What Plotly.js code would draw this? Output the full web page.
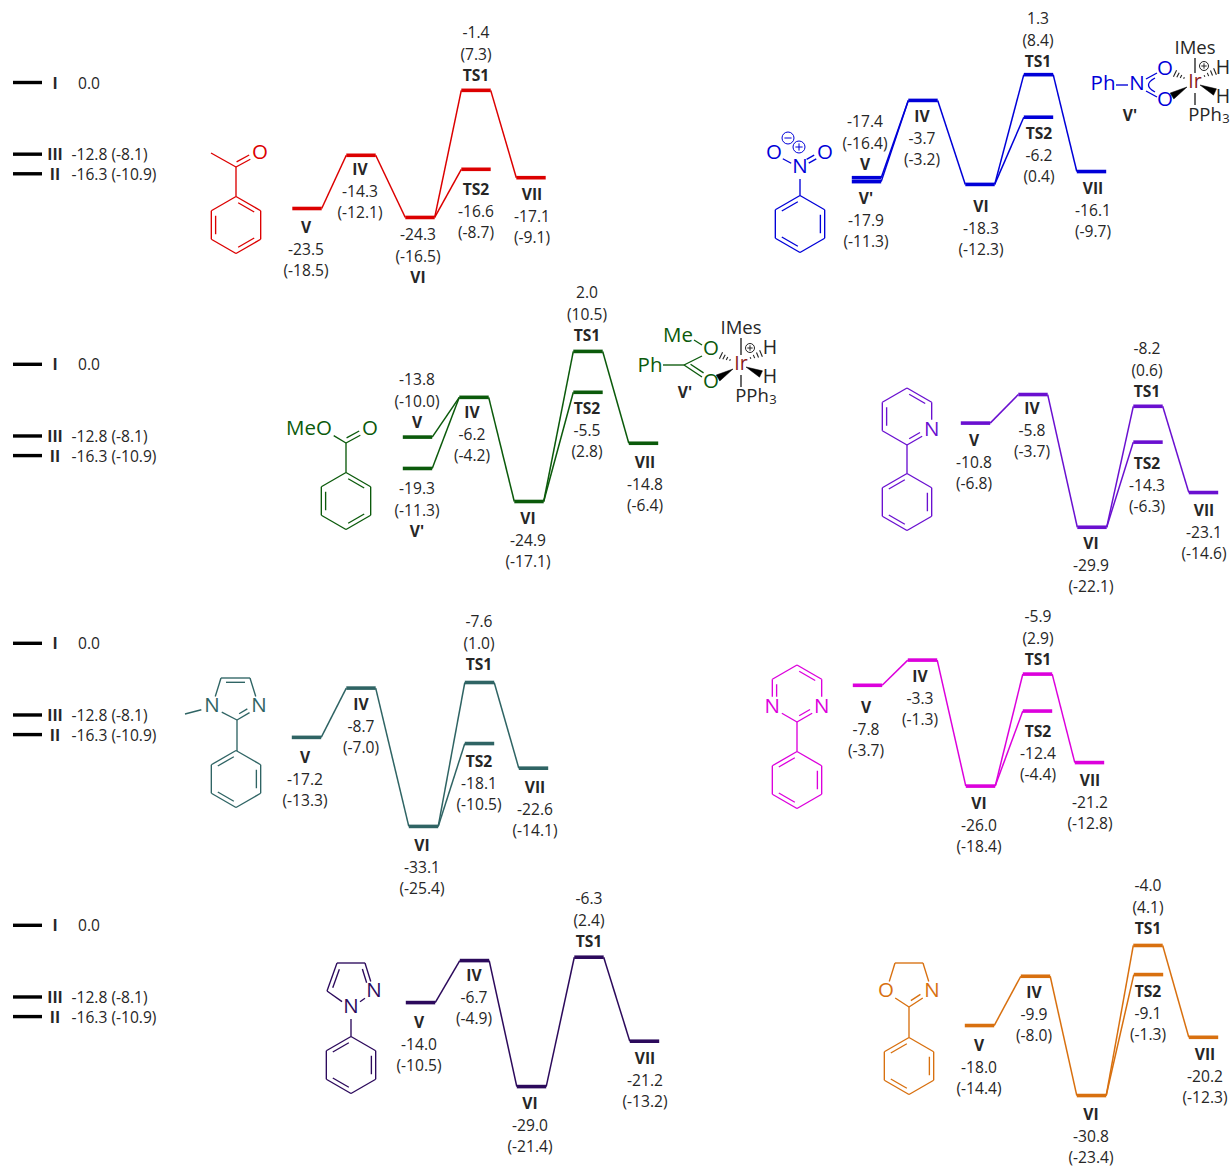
<!DOCTYPE html>
<html>
<head>
<meta charset="utf-8">
<script src="https://cdn.plot.ly/plotly-3.0.1.min.js"></script>
<style>html,body{margin:0;padding:0;background:#fff;overflow:hidden}#plot{width:1230px;height:1167px}</style>
</head>
<body>
<div id="plot"></div>
<script>
// ---------- reference levels ----------
const refNames = ['I', 'III', 'II'];
const refLevels = [0, -12.8, -16.3];
const refText = ['0.0', '-12.8 (-8.1)', '-16.3 (-10.9)'];

// ---------- stages, drawn level heights, printed values ----------
const acetoNames = ['V', 'IV', 'VI', 'TS1', 'TS2', 'VII'];
const acetoLevels = [-22.5, -13.0, -24.1, -1.4, -15.5, -17.0];
const acetoG = [-23.5, -14.3, -24.3, -1.4, -16.6, -17.1];
const acetoH = [-18.5, -12.1, -16.5, 7.3, -8.7, -9.1];

const nitroNames = ['V', "V'", 'IV', 'VI', 'TS1', 'TS2', 'VII'];
const nitroLevels = [-17.0, -17.7, -3.2, -18.2, 1.4, -6.2, -15.9];
const nitroG = [-17.4, -17.9, -3.7, -18.3, 1.3, -6.2, -16.1];
const nitroH = [-16.4, -11.3, -3.2, -12.3, 8.4, 0.4, -9.7];

const esterNames = ['V', "V'", 'IV', 'VI', 'TS1', 'TS2', 'VII'];
const esterLevels = [-13.0, -18.6, -5.9, -24.5, 2.3, -5.0, -14.1];
const esterG = [-13.8, -19.3, -6.2, -24.9, 2.0, -5.5, -14.8];
const esterH = [-10.0, -11.3, -4.2, -17.1, 10.5, 2.8, -6.4];

const pyridineNames = ['V', 'IV', 'VI', 'TS1', 'TS2', 'VII'];
const pyridineLevels = [-10.5, -5.4, -29.1, -7.5, -13.9, -22.9];
const pyridineG = [-10.8, -5.8, -29.9, -8.2, -14.3, -23.1];
const pyridineH = [-6.8, -3.7, -22.1, 0.6, -6.3, -14.6];

const imidazoleNames = ['V', 'IV', 'VI', 'TS1', 'TS2', 'VII'];
const imidazoleLevels = [-16.8, -8.0, -32.7, -7.0, -17.9, -22.3];
const imidazoleG = [-17.2, -8.7, -33.1, -7.6, -18.1, -22.6];
const imidazoleH = [-13.3, -7.0, -25.4, 1.0, -10.5, -14.1];

const pyrimidineNames = ['V', 'IV', 'VI', 'TS1', 'TS2', 'VII'];
const pyrimidineLevels = [-7.5, -3.0, -25.5, -5.5, -12.1, -21.3];
const pyrimidineG = [-7.8, -3.3, -26.0, -5.9, -12.4, -21.2];
const pyrimidineH = [-3.7, -1.3, -18.4, 2.9, -4.4, -12.8];

const pyrazoleNames = ['V', 'IV', 'VI', 'TS1', 'VII'];
const pyrazoleLevels = [-13.8, -6.3, -28.8, -5.7, -20.7];
const pyrazoleG = [-14.0, -6.7, -29.0, -6.3, -21.2];
const pyrazoleH = [-10.5, -4.9, -21.4, 2.4, -13.2];

const oxazolineNames = ['V', 'IV', 'VI', 'TS1', 'TS2', 'VII'];
const oxazolineLevels = [-17.9, -9.1, -30.4, -3.6, -8.8, -20.0];
const oxazolineG = [-18.0, -9.9, -30.8, -4.0, -9.1, -20.2];
const oxazolineH = [-14.4, -8.0, -23.4, 4.1, -1.3, -12.3];

// ---------- placement (separate from the values) ----------
const PX_PER_UNIT = 5.6;
const rowZero = [82.5, 364.3, 643.3, 925.3];
const BAR_HALF = 14.7, LINE_PITCH = 21.7, LABEL_SHIFT = 1;
const LABEL_SIZE = 15.6, ATOM_SIZE = 20.5, LIGAND_SIZE = 18.5;
const INK = '#262626';
const FONT = 'Open Sans, Noto Sans, sans-serif';
const ROUTE_MAIN = [['V','IV'],['IV','VI'],['VI','TS1'],['VI','TS2'],['TS1','VII']];
const ROUTE_DOUBLE = ROUTE_MAIN.concat([["V'",'IV']]);
const ROUTE_NO_TS2 = [['V','IV'],['IV','VI'],['VI','TS1'],['TS1','VII']];

// label placement: x centre, y of first line, order ('n' name first, 'v' values first)
const panels = [
 {names:acetoNames, levels:acetoLevels, g:acetoG, h:acetoH, row:0, color:'#dc0000', route:ROUTE_MAIN,
  barX:[307,361,420,476,476,531],
  lab:[[306,228,'n'],[360,170,'n'],[418,235,'v'],[476,33,'v'],[476,190,'n'],[532,195,'n']]},
 {names:nitroNames, levels:nitroLevels, g:nitroG, h:nitroH, row:0, color:'#0000d8', route:ROUTE_DOUBLE,
  barX:[866.5,866.5,923,980,1038.5,1038.5,1091.5],
  lab:[[865,122,'v'],[866,199,'n'],[922,117,'n'],[981,207,'n'],[1038,19,'v'],[1039,134,'n'],[1093,189,'n']]},
 {names:esterNames, levels:esterLevels, g:esterG, h:esterH, row:1, color:'#0b5a0b', route:ROUTE_DOUBLE,
  barX:[417.5,417.5,474,529,588,588,643.5],
  lab:[[417,380,'v'],[417,489,'v'],[472,413,'n'],[528,519,'n'],[587,293,'v'],[587,409,'n'],[645,463,'n']]},
 {names:pyridineNames, levels:pyridineLevels, g:pyridineG, h:pyridineH, row:1, color:'#6a10d0', route:ROUTE_MAIN,
  barX:[975.5,1033,1092,1148,1148,1203.5],
  lab:[[974,441,'n'],[1032,409,'n'],[1091,544,'n'],[1147,349,'v'],[1147,464,'n'],[1204,511,'n']]},
 {names:imidazoleNames, levels:imidazoleLevels, g:imidazoleG, h:imidazoleH, row:2, color:'#2f6464', route:ROUTE_MAIN,
  barX:[306.5,361,423.5,479.5,479.5,533.5],
  lab:[[305,758,'n'],[361,705,'n'],[422,846,'n'],[479,622,'v'],[479,762,'n'],[535,788,'n']]},
 {names:pyrimidineNames, levels:pyrimidineLevels, g:pyrimidineG, h:pyrimidineH, row:2, color:'#dc00dc', route:ROUTE_MAIN,
  barX:[867.5,922.5,980.5,1037.5,1037.5,1089.5],
  lab:[[866,708,'n'],[920,677,'n'],[979,804,'n'],[1038,617,'v'],[1038,732,'n'],[1090,781,'n']]},
 {names:pyrazoleNames, levels:pyrazoleLevels, g:pyrazoleG, h:pyrazoleH, row:3, color:'#2c0a5c', route:ROUTE_NO_TS2,
  barX:[420.5,474.5,531.5,589,644.5],
  lab:[[419,1023,'n'],[474,976,'n'],[530,1104,'n'],[589,899,'v'],[645,1059,'n']]},
 {names:oxazolineNames, levels:oxazolineLevels, g:oxazolineG, h:oxazolineH, row:3, color:'#d8700f', route:ROUTE_MAIN,
  barX:[979.5,1035.5,1091.5,1148,1148.5,1203.5],
  lab:[[979,1046,'n'],[1034,993,'n'],[1091,1115,'n'],[1148,886,'v'],[1148,992,'n'],[1205,1055,'n']]}
];

// ---------- traces ----------
const traces = [];
const yRef = r => r === 0 ? 'y' : 'y' + (r + 1);
const txt = {x:[], y:[], text:[]};
const addTxt = (x, y, t) => { txt.x.push(x); txt.y.push(y); txt.text.push(t); };

rowZero.forEach((z, r) => {
  const bx = [], by = [];
  refLevels.forEach(l => { bx.push(13, 42, null); by.push(l, l, null); });
  traces.push({type:'scatter', mode:'lines', x:bx, y:by, yaxis:yRef(r), hoverinfo:'skip',
    line:{color:'#000', width:3.4}});
  traces.push({type:'scatter', mode:'text', x:refNames.map(() => 55), y:refLevels.map(l => l - 0.4),
    text:refNames.map(n => '<b>' + n + '</b>'), yaxis:yRef(r), textposition:'middle center', hoverinfo:'skip',
    textfont:{family:FONT, size:LABEL_SIZE, color:INK}});
  traces.push({type:'scatter', mode:'text', x:[78, 71.5, 71.5], y:refLevels.map(l => l - 0.4),
    text:refText, yaxis:yRef(r), textposition:'middle right', hoverinfo:'skip',
    textfont:{family:FONT, size:LABEL_SIZE, color:INK}});
});

panels.forEach(p => {
  const idx = n => p.names.indexOf(n);
  const cx = [], cy = [];
  p.route.forEach(([a, b]) => {
    cx.push(p.barX[idx(a)] + BAR_HALF, p.barX[idx(b)] - BAR_HALF, null);
    cy.push(p.levels[idx(a)], p.levels[idx(b)], null);
  });
  traces.push({type:'scatter', mode:'lines', x:cx, y:cy, yaxis:yRef(p.row), hoverinfo:'skip',
    line:{color:p.color, width:1.5}});
  const bx = [], by = [];
  p.levels.forEach((l, i) => { bx.push(p.barX[i] - BAR_HALF, p.barX[i] + BAR_HALF, null); by.push(l, l, null); });
  traces.push({type:'scatter', mode:'lines', x:bx, y:by, yaxis:yRef(p.row), hoverinfo:'skip',
    line:{color:p.color, width:3.6}});
  p.lab.forEach(([x, y, order], i) => {
    const n = '<b>' + p.names[i] + '</b>', g = p.g[i].toFixed(1), h = '(' + p.h[i].toFixed(1) + ')';
    const lines = order === 'n' ? [n, g, h] : [g, h, n];
    lines.forEach((t, k) => addTxt(x, y + LABEL_SHIFT + k * LINE_PITCH, t));
  });
});

// ---------- structures, drawn as shapes on the page-level axis ----------
const shapes = [];
const line = (a, b, c, w) => shapes.push({type:'line', xref:'x', yref:'y5', x0:a[0], y0:a[1], x1:b[0], y1:b[1],
  line:{color:c, width:w || 1.35}, layer:'above'});
const trim = (a, b, ta, tb) => {
  const dx = b[0]-a[0], dy = b[1]-a[1], L = Math.hypot(dx, dy);
  return [[a[0]+dx/L*ta, a[1]+dy/L*ta], [b[0]-dx/L*tb, b[1]-dy/L*tb]];
};
const bond = (a, b, c, ta, tb) => { const t = trim(a, b, ta||0, tb||0); line(t[0], t[1], c); };
const innerLine = (a, b, toward, c, ta, tb) => {
  const dx = b[0]-a[0], dy = b[1]-a[1], L = Math.hypot(dx, dy);
  let nx = -dy/L, ny = dx/L;
  const mx = (a[0]+b[0])/2, my = (a[1]+b[1])/2;
  if ((toward[0]-mx)*nx + (toward[1]-my)*ny < 0) { nx = -nx; ny = -ny; }
  const off = 4.3;
  const A = [a[0]+nx*off, a[1]+ny*off], B = [b[0]+nx*off, b[1]+ny*off];
  const t = trim(A, B, ta===undefined?5:ta, tb===undefined?5:tb);
  line(t[0], t[1], c);
};
function hexVerts(cx, cy, R) {
  const v = [];
  for (let i = 0; i < 6; i++) { const a = -Math.PI/2 + i*Math.PI/3; v.push([cx + R*Math.cos(a), cy + R*Math.sin(a)]); }
  return v; // 0 top, 1 UR, 2 LR, 3 bottom, 4 LL, 5 UL
}
function ring(verts, doubles, c, hetero) {
  hetero = hetero || [];
  const n = verts.length;
  const cen = [verts.reduce((s,v)=>s+v[0],0)/n, verts.reduce((s,v)=>s+v[1],0)/n];
  for (let i = 0; i < n; i++) {
    const j = (i+1)%n;
    const ta = hetero.includes(i) ? 11 : 0, tb = hetero.includes(j) ? 11 : 0;
    bond(verts[i], verts[j], c, ta, tb);
    if (doubles.includes(i)) innerLine(verts[i], verts[j], cen, c, Math.max(ta,5), Math.max(tb,5));
  }
}
const PHENYL_A = [0, 2, 4], PHENYL_B = [1, 3, 5];
const R6 = 28.5;
const atomTxt = [];
const atom = (x, y, t, c, size) => atomTxt.push({x, y, t, c, size: size || ATOM_SIZE});
const circleMark = (x, y, r, c, plus) => {
  shapes.push({type:'circle', xref:'x', yref:'y5', x0:x-r, x1:x+r, y0:y-r, y1:y+r, line:{color:c, width:1}, layer:'above'});
  line([x-r*0.6, y], [x+r*0.6, y], c, 1);
  if (plus) line([x, y-r*0.6], [x, y+r*0.6], c, 1);
};
const wedge = (tip, base, w, c) => {
  const dx = base[0]-tip[0], dy = base[1]-tip[1], L = Math.hypot(dx, dy), nx = -dy/L*w/2, ny = dx/L*w/2;
  shapes.push({type:'path', xref:'x', yref:'y5', layer:'above', fillcolor:c, line:{color:c, width:0.5},
    path:`M ${tip[0]} ${tip[1]} L ${base[0]+nx} ${base[1]+ny} L ${base[0]-nx} ${base[1]-ny} Z`});
};
const hash = (tip, base, w, c, n) => {
  const dx = base[0]-tip[0], dy = base[1]-tip[1], L = Math.hypot(dx, dy);
  for (let i = 0; i < n; i++) {
    const f = (i + 1)/n, x = tip[0]+dx*f, y = tip[1]+dy*f;
    const nx = -dy/L*w*f/2, ny = dx/L*w*f/2;
    line([x+nx, y+ny], [x-nx, y-ny], c, 1.1);
  }
};

// acetophenone
(function(){ const c = panels[0].color;
  ring(hexVerts(236, 225, R6), PHENYL_A, c);
  const C = [236, 167];
  bond([236, 196.5], C, c);
  bond(C, [211, 153], c);
  bond(C, [260, 154], c, 0, 11);
  innerLine(C, [260, 154], [240, 150], c, 3, 10);
  atom(260, 154, 'O', c);
})();
// nitrobenzene
(function(){ const c = panels[1].color;
  ring(hexVerts(800, 224, R6), PHENYL_B, c);
  const N = [800, 168];
  bond([800, 195.5], N, c, 0, 11);
  bond(N, [774, 154], c, 10, 10);
  bond(N, [825, 154], c, 10, 10);
  innerLine(N, [825, 154], [825, 140], c, 10, 10);
  atom(800, 168, 'N', c); atom(774, 154, 'O', c); atom(825, 154, 'O', c);
  circleMark(788, 138, 6, c, false); circleMark(799, 147, 6, c, true);
  // Ir complex ligand
  atom(1103, 85, 'Ph', c); atom(1137, 85, 'N', c); atom(1165, 70, 'O', c); atom(1165, 101, 'O', c);
  bond([1116, 85], [1128, 85], c);
  bond([1146, 79], [1157, 73], c); bond([1146, 91], [1157, 97], c);
  shapes.push({type:'path', xref:'x', yref:'y5', layer:'above', line:{color:c, width:1.35},
    path:'M 1155 78 Q 1142 85 1155 92'});
})();
// methyl benzoate
(function(){ const c = panels[2].color;
  ring(hexVerts(346, 501, R6), PHENYL_A, c);
  const C = [346, 443];
  bond([346, 472.5], C, c);
  bond(C, [370, 430], c, 0, 11);
  innerLine(C, [370, 430], [350, 426], c, 3, 10);
  bond(C, [326, 431], c, 0, 9);
  atom(309, 430, 'MeO', c); atom(370, 430, 'O', c);
  // Ir complex ligand
  atom(678, 337, 'Me', c); atom(711, 350, 'O', c); atom(650, 367, 'Ph', c); atom(711, 383, 'O', c);
  const C2 = [684, 365];
  bond([663, 365], C2, c); bond(C2, [702, 356], c);
  bond(C2, [702, 377], c); innerLine(C2, [702, 377], [707, 362], c, 5, 1);
  bond([694, 340], [702, 345], c);
})();
// Ir centre common to both complexes
function irCentre(ix, iy, hx, hy1, hy2, ppx, ppy, imy) {
  const K = '#222222';
  atom(ix, iy, 'Ir', '#8b1a1a', LIGAND_SIZE + 1);
  atom(ix, imy, 'IMes', INK, LIGAND_SIZE);
  atom(hx, hy1, 'H', INK, LIGAND_SIZE + 1); atom(hx, hy2, 'H', INK, LIGAND_SIZE + 1);
  atom(ppx, ppy, 'PPh', INK, LIGAND_SIZE);
  atom(ppx + 21, ppy + 4, '3', INK, 13);
  circleMark(ix + 9, iy - 17, 4.5, K, true);
  line([ix, imy + 9], [ix, iy - 10], K);
  line([ix, iy + 10], [ix, iy + 22], K);
  hash([ix - 8, iy - 3.5], [ix - 20, iy - 9.5], 7, K, 4);
  hash([ix + 6, iy - 5.5], [ix + 20, iy - 11.5], 7, K, 4);
  wedge([ix - 8, iy + 4], [ix - 23, iy + 13], 7, '#000');
  wedge([ix + 5, iy + 2], [ix + 20, iy + 9], 7, '#000');
}
irCentre(1195, 83, 1223, 69, 98, 1205, 116, 49);
irCentre(741, 365, 770, 349, 378, 752, 397, 329);
// 2-phenylpyridine
(function(){ const c = panels[3].color;
  const v = hexVerts(907, 416.5, R6);
  ring(v, [0, 2, 4], c, [2]);
  atom(v[2][0], v[2][1], 'N', c);
  bond(v[3], [907, 473.5], c);
  ring(hexVerts(907, 502, R6), PHENYL_B, c);
})();
// 1-methyl-2-phenylimidazole
(function(){ const c = panels[4].color;
  const v = [[250,678],[259,707],[237,720],[212,707],[221,678]];
  ring(v, [1, 4], c, [1, 3]);
  atom(212, 707, 'N', c); atom(259, 707, 'N', c);
  bond([185, 714], [212, 707], c, 0, 11);
  bond(v[2], [237, 751], c);
  ring(hexVerts(236, 779, R6), PHENYL_B, c);
})();
// 2-phenylpyrimidine
(function(){ const c = panels[5].color;
  const v = hexVerts(797, 693.5, R6);
  ring(v, [0, 2, 4], c, [2, 4]);
  atom(v[2][0], v[2][1], 'N', c); atom(v[4][0], v[4][1], 'N', c);
  bond(v[3], [797, 751.5], c);
  ring(hexVerts(797, 780, R6), PHENYL_B, c);
})();
// 1-phenylpyrazole
(function(){ const c = panels[6].color;
  const v = [[365,963],[374,992],[351,1008],[327,991],[337,963]];
  ring(v, [0, 3], c, [1, 2]);
  atom(374, 992, 'N', c); atom(351, 1008, 'N', c);
  bond([351, 1008], [351, 1036.5], c, 11, 0);
  ring(hexVerts(351, 1065, R6), PHENYL_B, c);
})();
// 2-phenyl-oxazoline
(function(){ const c = panels[7].color;
  const v = [[923,963],[932,992],[909,1007],[886,992],[895,963]];
  ring(v, [1], c, [1, 3]);
  atom(886, 992, 'O', c); atom(932, 992, 'N', c);
  bond(v[2], [909, 1037.5], c);
  ring(hexVerts(909, 1066, R6), PHENYL_B, c);
})();
addTxt(1130, 117, "<b>V'</b>");
addTxt(685, 394, "<b>V'</b>");

traces.push({type:'scatter', mode:'text', x:txt.x, y:txt.y, text:txt.text, yaxis:'y5', textposition:'middle center',
  hoverinfo:'skip', textfont:{family:FONT, size:LABEL_SIZE, color:INK}});
atomTxt.forEach(a => traces.push({type:'scatter', mode:'text', x:[a.x], y:[a.y], text:[a.t], yaxis:'y5',
  textposition:'middle center', hoverinfo:'skip', textfont:{family:FONT, size:a.size, color:a.c}}));

// ---------- layout ----------
const hidden = {visible:false, fixedrange:true, showgrid:false, zeroline:false};
const layout = {
  width:1230, height:1167, margin:{l:0, r:0, t:0, b:0}, showlegend:false,
  paper_bgcolor:'#fff', plot_bgcolor:'#fff', shapes,
  xaxis:Object.assign({range:[0, 1230], domain:[0, 1]}, hidden),
  yaxis5:Object.assign({range:[1167, 0], domain:[0, 1], anchor:'x', overlaying:'y'}, hidden)
};
rowZero.forEach((z, r) => {
  const a = Object.assign({range:[(z - 1167)/PX_PER_UNIT, z/PX_PER_UNIT], domain:[0, 1], anchor:'x'}, hidden);
  if (r > 0) a.overlaying = 'y';
  layout[r === 0 ? 'yaxis' : 'yaxis' + (r + 1)] = a;
});
Plotly.newPlot('plot', traces, layout, {displayModeBar:false, staticPlot:true});
</script>
</body>
</html>
